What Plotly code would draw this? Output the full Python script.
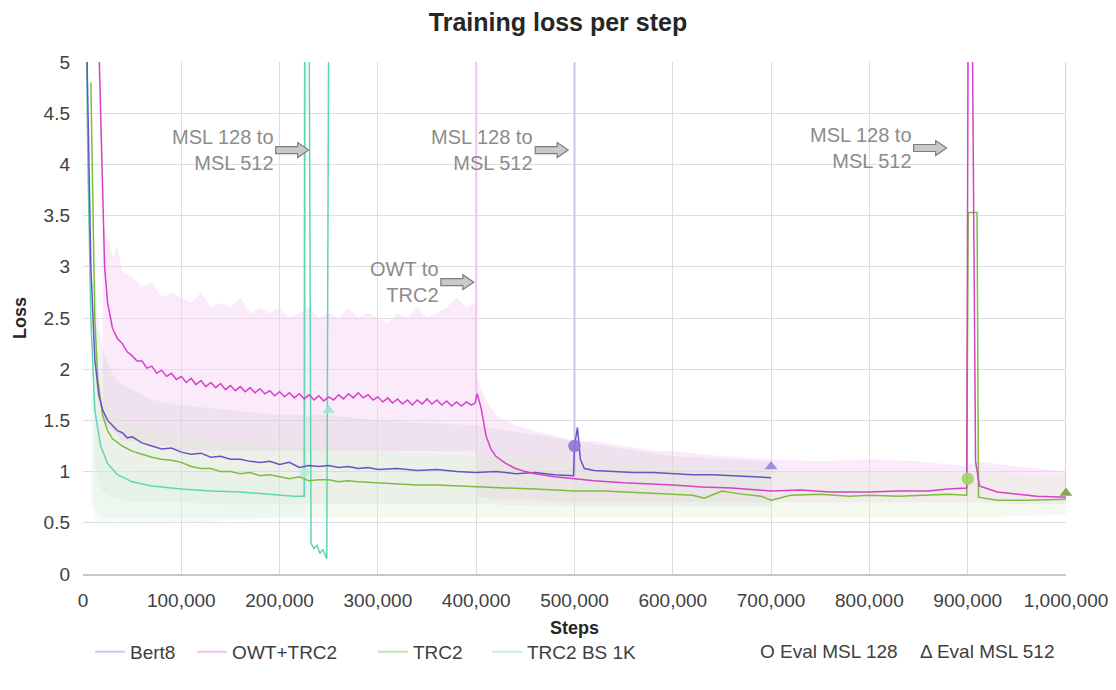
import plotly.graph_objects as go

# ---------------- smoothed loss curves (step, loss) ----------------
bert8_steps = [3000, 5000, 8000, 12000, 16000, 20000, 25000, 30000, 35000, 40000, 45000, 50000,
               60000, 70000, 80000, 90000, 100000, 110000, 120000, 130000, 140000, 150000,
               160000, 170000, 180000, 190000, 200000, 210000, 220000, 230000, 240000, 250000,
               260000, 270000, 280000, 290000, 300000, 320000, 340000, 360000, 380000, 400000,
               420000, 440000, 460000, 480000, 499000, 500000, 503000, 506000, 510000, 520000,
               540000, 560000, 580000, 600000, 620000, 640000, 660000, 680000, 700000]
bert8_loss = [5.6, 4.5, 3.0, 2.1, 1.75, 1.6, 1.5, 1.45, 1.40, 1.38, 1.33, 1.34,
              1.28, 1.25, 1.22, 1.23, 1.19, 1.17, 1.18, 1.14, 1.15, 1.12,
              1.12, 1.10, 1.09, 1.10, 1.07, 1.09, 1.04, 1.06, 1.05, 1.06,
              1.04, 1.05, 1.03, 1.04, 1.02, 1.03, 1.01, 1.02, 1.00, 0.99,
              1.00, 0.98, 0.99, 0.97, 0.96, 1.25, 1.43, 1.12, 1.03, 1.01,
              1.00, 0.99, 0.99, 0.98, 0.97, 0.97, 0.96, 0.95, 0.94]

owt_steps = [15000, 18000, 20000, 22000, 25000, 30000, 35000, 40000, 45000, 50000, 55000, 60000,
             65000, 70000, 75000, 80000, 85000, 90000, 95000, 100000, 105000, 110000, 115000,
             120000, 125000, 130000, 135000, 140000, 145000, 150000, 155000, 160000, 165000,
             170000, 175000, 180000, 185000, 190000, 195000, 200000, 205000, 210000, 215000,
             220000, 225000, 230000, 235000, 240000, 245000, 250000, 255000, 260000, 265000,
             270000, 275000, 280000, 285000, 290000, 295000, 300000, 305000, 310000, 315000,
             320000, 325000, 330000, 335000, 340000, 345000, 350000, 355000, 360000, 365000,
             370000, 375000, 380000, 385000, 390000, 395000, 399000, 401000, 405000, 410000,
             415000, 420000, 430000, 440000, 450000, 460000, 480000, 500000, 520000, 550000,
             580000, 600000, 630000, 660000, 700000, 730000, 760000, 800000, 830000, 860000,
             880000, 899000, 900500, 904500, 908000, 912000, 930000, 950000, 970000, 1000000]
owt_loss = [5.6, 4.5, 3.5, 3.0, 2.65, 2.4, 2.3, 2.25, 2.17, 2.13, 2.08, 2.08,
            2.01, 2.03, 1.96, 1.99, 1.93, 1.96, 1.90, 1.93, 1.87, 1.91, 1.85,
            1.89, 1.83, 1.87, 1.82, 1.86, 1.80, 1.84, 1.79, 1.83, 1.78,
            1.82, 1.77, 1.81, 1.76, 1.79, 1.74, 1.78, 1.73, 1.77, 1.72,
            1.76, 1.71, 1.75, 1.70, 1.74, 1.69, 1.73, 1.70, 1.75, 1.71,
            1.76, 1.72, 1.77, 1.72, 1.75, 1.70, 1.73, 1.68, 1.72, 1.67,
            1.71, 1.66, 1.70, 1.65, 1.70, 1.66, 1.71, 1.66, 1.70, 1.65,
            1.69, 1.64, 1.68, 1.64, 1.68, 1.65, 1.67, 1.76, 1.62, 1.35,
            1.22, 1.15, 1.08, 1.03, 1.00, 0.98, 0.95, 0.93, 0.91, 0.89,
            0.88, 0.87, 0.85, 0.84, 0.81, 0.82, 0.80, 0.80, 0.81, 0.81,
            0.83, 0.84, 5.6, 5.6, 1.1, 0.86, 0.80, 0.78, 0.76, 0.75]

trc2_steps = [8000, 10000, 12000, 15000, 20000, 25000, 30000, 40000, 50000, 60000, 70000,
              80000, 90000, 100000, 110000, 120000, 130000, 140000, 150000, 160000, 170000,
              180000, 190000, 200000, 210000, 220000, 230000, 240000, 250000, 260000, 270000,
              280000, 300000, 320000, 340000, 360000, 380000, 400000, 430000, 460000, 500000,
              530000, 560000, 600000, 620000, 632000, 650000, 670000, 690000, 700000, 720000,
              750000, 780000, 800000, 830000, 860000, 880000, 899000, 900500, 909500, 911000,
              930000, 960000, 1000000]
trc2_loss = [4.8, 3.5, 2.5, 1.9, 1.55, 1.4, 1.32, 1.25, 1.2, 1.17, 1.14,
             1.12, 1.11, 1.09, 1.05, 1.03, 1.03, 1.00, 1.00, 0.98, 0.99,
             0.96, 0.97, 0.95, 0.93, 0.95, 0.91, 0.92, 0.92, 0.90, 0.91,
             0.90, 0.89, 0.88, 0.87, 0.87, 0.86, 0.85, 0.84, 0.83, 0.81,
             0.81, 0.80, 0.78, 0.77, 0.74, 0.81, 0.78, 0.76, 0.72, 0.77,
             0.78, 0.76, 0.77, 0.76, 0.77, 0.78, 0.77, 3.53, 3.53, 0.75,
             0.72, 0.72, 0.73]

bs1k_steps = [3000, 5000, 8000, 12000, 18000, 25000, 35000, 50000, 70000, 100000, 130000,
              160000, 190000, 200000, 215000, 225000, 225500, 230000, 232000, 235000, 238000,
              241000, 244000, 248000, 250000]
bs1k_loss = [5.6, 4.0, 2.5, 1.6, 1.25, 1.08, 0.97, 0.9, 0.86, 0.83, 0.81,
             0.80, 0.78, 0.77, 0.76, 0.76, 5.6, 5.6, 0.30, 0.25, 0.28, 0.20, 0.24, 0.15, 5.6]

# ---------------- raw (unsmoothed) loss envelopes ----------------
owt_raw_steps = [20000, 25000, 30000, 35000, 40000, 50000, 60000, 70000, 80000, 90000, 100000,
                 110000, 120000, 130000, 140000, 150000, 160000, 170000, 180000, 190000, 200000,
                 210000, 220000, 230000, 240000, 250000, 260000, 270000, 280000, 290000, 300000,
                 310000, 320000, 330000, 340000, 350000, 360000, 370000, 380000, 390000, 399000,
                 401000, 410000, 420000, 430000, 440000, 460000, 480000, 500000, 520000, 550000,
                 580000, 600000, 650000, 700000, 750000, 800000, 850000, 899000, 910000, 950000,
                 1000000]
owt_raw_hi = [3.4, 3.3, 3.1, 3.2, 2.95, 2.9, 2.8, 2.85, 2.7, 2.75, 2.7,
              2.65, 2.75, 2.6, 2.65, 2.6, 2.7, 2.55, 2.6, 2.55, 2.6,
              2.5, 2.55, 2.6, 2.5, 2.55, 2.5, 2.6, 2.5, 2.55, 2.5,
              2.45, 2.55, 2.5, 2.6, 2.5, 2.55, 2.6, 2.7, 2.6, 2.65,
              1.9, 1.7, 1.55, 1.5, 1.45, 1.4, 1.35, 1.3, 1.3, 1.25,
              1.2, 1.2, 1.15, 1.12, 1.1, 1.12, 1.1, 1.05, 1.1, 1.05,
              1.0]
owt_raw_lo = [1.5, 1.45, 1.4, 1.35, 1.3, 1.3, 1.3, 1.25, 1.25, 1.25, 1.2,
              1.2, 1.2, 1.2, 1.2, 1.2, 1.2, 1.2, 1.2, 1.2, 1.2,
              1.2, 1.2, 1.2, 1.2, 1.2, 1.2, 1.2, 1.2, 1.2, 1.2,
              1.2, 1.2, 1.2, 1.2, 1.2, 1.2, 1.2, 1.2, 1.2, 1.2,
              0.75, 0.75, 0.72, 0.72, 0.72, 0.72, 0.7, 0.7, 0.7, 0.7,
              0.7, 0.7, 0.7, 0.7, 0.7, 0.7, 0.7, 0.7, 0.7, 0.68,
              0.68]

bert8_raw_steps = [12000, 15000, 20000, 30000, 40000, 50000, 70000, 100000, 150000, 200000,
                   250000, 300000, 400000, 500000, 600000, 700000]
bert8_raw_hi = [3.0, 2.5, 2.2, 1.95, 1.85, 1.8, 1.7, 1.65, 1.6, 1.55, 1.55, 1.5, 1.45, 1.3,
                1.15, 1.1]
bert8_raw_lo = [1.1, 0.9, 0.8, 0.75, 0.72, 0.7, 0.7, 0.7, 0.68, 0.68, 0.68, 0.68, 0.68, 0.66,
                0.66, 0.66]

trc2_raw_steps = [10000, 15000, 20000, 30000, 50000, 100000, 150000, 200000, 300000, 400000,
                  500000, 600000, 700000, 800000, 900000, 1000000]
trc2_raw_hi = [2.6, 2.0, 1.7, 1.55, 1.45, 1.35, 1.3, 1.25, 1.2, 1.15, 1.1, 1.05, 1.0, 1.0,
               1.0, 0.95]
trc2_raw_lo = [0.7, 0.6, 0.55, 0.55, 0.55, 0.55, 0.55, 0.55, 0.55, 0.55, 0.55, 0.55, 0.55,
               0.55, 0.55, 0.58]

bs1k_raw_steps = [8000, 12000, 15000, 20000, 30000, 50000, 100000, 150000, 200000, 225000]
bs1k_raw_hi = [1.9, 1.6, 1.3, 1.15, 1.05, 1.0, 0.95, 0.92, 0.9, 0.9]
bs1k_raw_lo = [0.7, 0.55, 0.5, 0.48, 0.47, 0.48, 0.5, 0.52, 0.55, 0.55]

# isolated raw loss spikes at the sequence-length / dataset switches
raw_spike_step = {"Bert8": 500000, "OWT+TRC2": 400000, "TRC2": 1000000, "TRC2 BS 1K": 226000}
raw_spike_loss = {"Bert8": [0.95, 5.6], "OWT+TRC2": [1.7, 5.6], "TRC2": [0.75, 5.6],
                  "TRC2 BS 1K": [0.76, 5.6]}

# ---------------- evaluation points ----------------
eval128_steps = [500000, 225000, 900000]
eval128_loss = [1.25, 0.99, 0.93]
eval128_color = ["#8a78d8", "#b5eedc", "#9fd46a"]
eval128_size = [11, 8, 11]
eval512_steps = [700000, 250000, 1000000]
eval512_loss = [1.05, 1.60, 0.79]
eval512_color = ["#9484dc", "#9fe6d2", "#7e9a45"]

# ---------------- annotations ----------------
notes = [("MSL 128 to<br>MSL 512", 196000, 4.14),
         ("MSL 128 to<br>MSL 512", 460000, 4.14),
         ("MSL 128 to<br>MSL 512", 845000, 4.16),
         ("OWT to<br>TRC2", 364000, 2.85)]

series_names = ["Bert8", "OWT+TRC2", "TRC2", "TRC2 BS 1K"]
legend_x = [0.0071, 0.111, 0.295, 0.411]

FONT = "Liberation Sans, Arial"
colors = {"Bert8": "#6a52c4", "OWT+TRC2": "#d541c8", "TRC2": "#7cbd3e", "TRC2 BS 1K": "#5ed6b2"}
pastel = {"Bert8": "#cdc6f2", "OWT+TRC2": "#f5c2ef", "TRC2": "#c3e2ad", "TRC2 BS 1K": "#bff0e3"}
band_fill = {"Bert8": "rgba(205,203,210,0.26)", "OWT+TRC2": "rgba(246,206,240,0.42)",
             "TRC2": "rgba(222,238,210,0.33)", "TRC2 BS 1K": "rgba(214,244,234,0.26)"}

fig = go.Figure()


def add_band(name, xs, hi, lo):
    fig.add_trace(go.Scatter(x=xs + xs[::-1], y=hi + lo[::-1], fill="toself",
                             fillcolor=band_fill[name], line=dict(width=0),
                             mode="lines", showlegend=False, hoverinfo="skip"))


add_band("OWT+TRC2", owt_raw_steps, owt_raw_hi, owt_raw_lo)
add_band("Bert8", bert8_raw_steps, bert8_raw_hi, bert8_raw_lo)
add_band("TRC2", trc2_raw_steps, trc2_raw_hi, trc2_raw_lo)
add_band("TRC2 BS 1K", bs1k_raw_steps, bs1k_raw_hi, bs1k_raw_lo)

# raw spikes double as legend entries, one legend box per series so each sits at its own spot
legend_ids = ["legend", "legend2", "legend3", "legend4"]
for lid, name in zip(legend_ids, series_names):
    s = raw_spike_step[name]
    fig.add_trace(go.Scatter(x=[s, s], y=raw_spike_loss[name], mode="lines", name=name,
                             line=dict(color=pastel[name], width=2), legend=lid))

for name, xs, ys in [("TRC2 BS 1K", bs1k_steps, bs1k_loss),
                     ("TRC2", trc2_steps, trc2_loss),
                     ("Bert8", bert8_steps, bert8_loss),
                     ("OWT+TRC2", owt_steps, owt_loss)]:
    fig.add_trace(go.Scatter(x=xs, y=ys, mode="lines", showlegend=False,
                             line=dict(color=colors[name], width=1.5)))

fig.add_trace(go.Scatter(x=eval128_steps, y=eval128_loss, mode="markers", showlegend=False,
                         cliponaxis=False,
                         marker=dict(symbol="circle", size=eval128_size, color=eval128_color,
                                     opacity=0.9, line=dict(width=1.5, color=eval128_color))))
fig.add_trace(go.Scatter(x=eval512_steps, y=eval512_loss, mode="markers", showlegend=False,
                         cliponaxis=False,
                         marker=dict(symbol="triangle-up", size=11, color=eval512_color,
                                     opacity=0.9)))

# block arrows pointing at each switch
arrow_path = "M 0 -3.5 L 22 -3.5 L 22 -7.5 L 33 0 L 22 7.5 L 22 3.5 L 0 3.5 Z"
for text, x, y in notes:
    fig.add_annotation(x=x, y=y, xref="x", yref="y", text=text, showarrow=False,
                       xanchor="right", yanchor="middle", align="right",
                       font=dict(family=FONT, size=20, color="#8c8c8c"))
    fig.add_shape(type="path", xref="x", yref="y", xsizemode="pixel", ysizemode="pixel",
                  xanchor=x, yanchor=y, path=arrow_path,
                  fillcolor="#c9c9c9", line=dict(color="#7d7d7d", width=1.2))

fig.add_annotation(x=0.687, y=-0.152, xref="paper", yref="paper", text="O Eval MSL 128",
                   showarrow=False, xanchor="left", yanchor="middle",
                   font=dict(family=FONT, size=19, color="#404040"))
fig.add_annotation(x=0.849, y=-0.152, xref="paper", yref="paper", text="Δ Eval MSL 512",
                   showarrow=False, xanchor="left", yanchor="middle",
                   font=dict(family=FONT, size=19, color="#404040"))

legend_style = dict(orientation="h", xanchor="left", y=-0.152, yanchor="middle",
                    font=dict(size=19, color="#404040"), itemwidth=30,
                    bgcolor="rgba(0,0,0,0)")

fig.update_layout(
    width=1116, height=690,
    margin=dict(l=83, r=50, t=62, b=116),
    paper_bgcolor="white", plot_bgcolor="white",
    font=dict(family=FONT, size=19, color="#404040"),
    title=dict(text="<b>Training loss per step</b>", x=0.5, xanchor="center",
               y=0.968, yanchor="middle", font=dict(size=25, color="#262626")),
    legend=dict(x=legend_x[0], **legend_style),
    legend2=dict(x=legend_x[1], **legend_style),
    legend3=dict(x=legend_x[2], **legend_style),
    legend4=dict(x=legend_x[3], **legend_style),
    xaxis=dict(range=[0, 1000000], dtick=100000, tick0=0, tickformat=",d",
               automargin=False,
               showgrid=True, gridcolor="#dedede", gridwidth=1, zeroline=False,
               showline=True, linecolor="#c8c8c8", linewidth=1.5, ticks="",
               ticklabelstandoff=8,
               title=dict(text="<b>Steps</b>", standoff=12, font=dict(size=18, color="#262626")),
               tickfont=dict(size=19, color="#404040")),
    yaxis=dict(range=[0, 5], dtick=0.5, tick0=0, showgrid=True, gridcolor="#dedede",
               gridwidth=1, zeroline=False, ticks="", ticklabelstandoff=12,
               automargin=False,
               title=dict(text="<b>Loss</b>", standoff=12, font=dict(size=18, color="#262626")),
               tickfont=dict(size=19, color="#404040")),
)

fig.write_html("out.html")
